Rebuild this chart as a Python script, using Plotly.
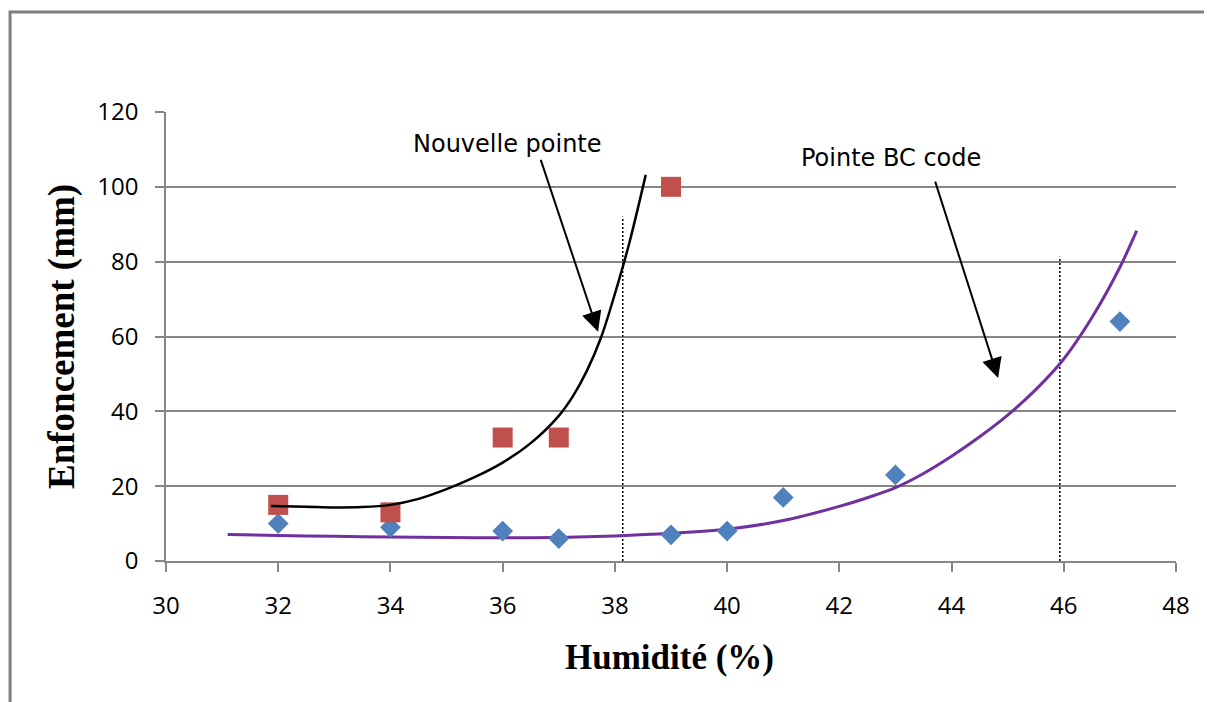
import plotly.graph_objects as go

# ---- data ----
hum_new = [32, 34, 36, 37, 39]
enf_new = [15, 13, 33, 33, 100]

hum_bc = [32, 34, 36, 37, 39, 40, 41, 43, 47]
enf_bc = [10, 9, 8, 6, 7, 8, 17, 23, 64]

trend_new_x = [31.87, 32.5, 33.0, 33.5, 34.0, 34.5, 35.0, 35.5, 36.0, 36.5, 37.0, 37.25, 37.5, 37.75, 38.0, 38.25, 38.55]
trend_new_y = [14.7, 14.5, 14.3, 14.4, 15.0, 16.6, 19.2, 22.4, 26.3, 31.5, 38.8, 44.0, 50.8, 59.6, 71.4, 84.6, 103.2]

trend_bc_x = [31.1, 32, 33, 34, 35, 36, 37, 38, 39, 40, 41, 42, 42.5, 43, 43.5, 44, 44.5, 45, 45.5, 46, 46.5, 47, 47.3]
trend_bc_y = [7.1, 6.8, 6.6, 6.4, 6.3, 6.2, 6.3, 6.7, 7.4, 8.5, 10.8, 14.6, 16.9, 19.6, 23.4, 28.0, 33.2, 39.0, 45.8, 54.0, 65.0, 78.5, 88.3]

limit_x = [38.14, 45.93]
limit_top = [92.0, 81.3]

x_ticks = [30, 32, 34, 36, 38, 40, 42, 44, 46, 48]
y_ticks = [0, 20, 40, 60, 80, 100, 120]

GRAY = "#868686"

fig = go.Figure()

for lx, lt in zip(limit_x, limit_top):
    fig.add_trace(go.Scatter(x=[lx, lx], y=[0, lt], mode="lines",
                             line=dict(color="black", width=1.5, dash="2px,2px"),
                             showlegend=False, hoverinfo="skip"))

fig.add_trace(go.Scatter(x=trend_bc_x, y=trend_bc_y, mode="lines",
                         line=dict(color="#7030A0", width=3, shape="spline", smoothing=0.8),
                         showlegend=False))
fig.add_trace(go.Scatter(x=hum_bc, y=enf_bc, mode="markers",
                         marker=dict(symbol="diamond", size=16, color="#4F81BD"),
                         showlegend=False))
fig.add_trace(go.Scatter(x=hum_new, y=enf_new, mode="markers",
                         marker=dict(symbol="square", size=20, color="#C0504D"),
                         showlegend=False))
fig.add_trace(go.Scatter(x=trend_new_x, y=trend_new_y, mode="lines",
                         line=dict(color="black", width=2.5, shape="spline", smoothing=1),
                         showlegend=False))

ann_font = dict(family="DejaVu Sans", size=24, color="black")
fig.add_annotation(x=36.08, y=111.5, text="Nouvelle pointe", showarrow=False,
                   font=ann_font, xanchor="center", yanchor="middle")
fig.add_annotation(x=42.92, y=107.7, text="Pointe BC code", showarrow=False,
                   font=ann_font, xanchor="center", yanchor="middle")
fig.add_annotation(x=37.70, y=61.3, ax=36.67, ay=107.6, axref="x", ayref="y",
                   text="", showarrow=True, arrowhead=2, arrowsize=2,
                   arrowwidth=2, arrowcolor="black", standoff=0)
fig.add_annotation(x=44.83, y=48.9, ax=43.70, ay=101.8, axref="x", ayref="y",
                   text="", showarrow=True, arrowhead=2, arrowsize=2,
                   arrowwidth=2, arrowcolor="black", standoff=0)

fig.add_annotation(xref="paper", yref="paper", x=-0.103, y=0.501,
                   text="Enfoncement (mm)", textangle=-90, showarrow=False,
                   font=dict(family="Liberation Serif", size=37, color="black", weight="bold"),
                   xanchor="center", yanchor="middle")
fig.add_annotation(xref="paper", yref="paper", x=0.499, y=-0.216,
                   text="Humidité (%)", showarrow=False,
                   font=dict(family="Liberation Serif", size=35, color="black", weight="bold"),
                   xanchor="center", yanchor="middle")

fig.add_shape(type="rect", xref="paper", yref="paper",
              x0=-0.1544, x1=1.0307, y0=-0.40, y1=1.2227,
              line=dict(color="#7f7f7f", width=3), fillcolor="rgba(0,0,0,0)", layer="below")

tick_font = dict(family="Open Sans", size=24, color="black")
fig.update_xaxes(range=[30, 48], tickvals=x_ticks, ticktext=[str(v) for v in x_ticks],
                 showgrid=False, zeroline=False, showline=True, linecolor=GRAY, linewidth=1.5,
                 ticks="outside", ticklen=9, tickcolor=GRAY, tickwidth=1.5,
                 tickfont=tick_font, ticklabelstandoff=13)
fig.update_yaxes(range=[0, 120], tickvals=y_ticks, ticktext=[str(v) for v in y_ticks],
                 showgrid=True, gridcolor=GRAY, gridwidth=1.5, zeroline=False,
                 showline=True, linecolor=GRAY, linewidth=1.5,
                 ticks="outside", ticklen=9, tickcolor=GRAY, tickwidth=1.5,
                 tickfont=tick_font, ticklabelstandoff=12)

# page body has an 8px margin: figure sized/margined so the plot area sits at
# x 166..1176, y 112..561 in the browser window
fig.update_layout(width=1204, height=694, plot_bgcolor="white", paper_bgcolor="white",
                  margin=dict(l=158, r=36, t=104, b=141), showlegend=False)

fig.write_html("out.html")
